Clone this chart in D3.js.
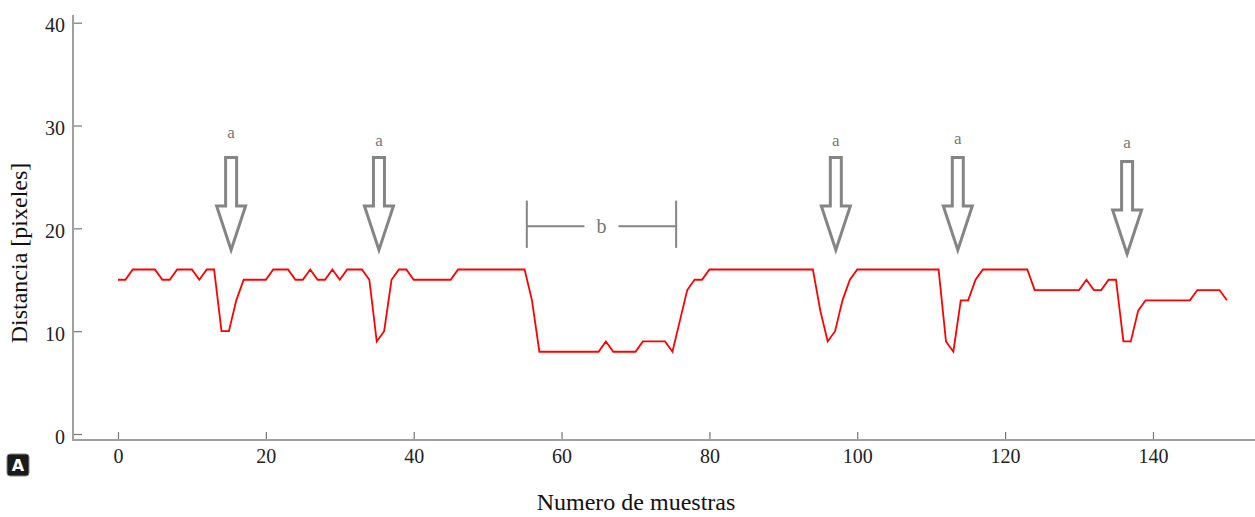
<!DOCTYPE html>
<html>
<head>
<meta charset="utf-8">
<script src="https://cdn.jsdelivr.net/npm/d3@7"></script>
<style>
  body { margin: 0; background: #fff; }
  svg { display: block; font-family: "Liberation Serif", "Times New Roman", serif; }
</style>
</head>
<body>
<div id="chart"></div>
<script>
// distance per sample (pixels)
const distancia = [
  15, 15, 16, 16, 16, 16, 15, 15, 16, 16, 16, 15, 16, 16, 10, 10, 13, 15, 15, 15,
  15, 16, 16, 16, 15, 15, 16, 15, 15, 16, 15, 16, 16, 16, 15, 9, 10, 15, 16, 16,
  15, 15, 15, 15, 15, 15, 16, 16, 16, 16, 16, 16, 16, 16, 16, 16, 13, 8, 8, 8,
  8, 8, 8, 8, 8, 8, 9, 8, 8, 8, 8, 9, 9, 9, 9, 8, 11, 14, 15, 15,
  16, 16, 16, 16, 16, 16, 16, 16, 16, 16, 16, 16, 16, 16, 16, 12, 9, 10, 13, 15,
  16, 16, 16, 16, 16, 16, 16, 16, 16, 16, 16, 16, 9, 8, 13, 13, 15, 16, 16, 16,
  16, 16, 16, 16, 14, 14, 14, 14, 14, 14, 14, 15, 14, 14, 15, 15, 9, 9, 12, 13,
  13, 13, 13, 13, 13, 13, 14, 14, 14, 14, 13
];
const muestras = distancia.map((d, i) => i);

const xTicks = [0, 20, 40, 60, 80, 100, 120, 140];
const yTicks = [0, 10, 20, 30, 40];

// "a" arrows (sample position, shaft top, tip, label height)
const arrowX = [15.3, 35.3, 97.1, 113.6, 136.5];
const arrowTop = [26.9, 26.9, 26.9, 26.9, 26.5];
const arrowTip = [17.9, 17.9, 17.9, 17.9, 17.5];
const arrowLabelY = [29.3, 28.5, 28.5, 28.7, 28.3];

// "b" bracket
const bracketX = [55.3, 75.5];
const bracketY = 20.2;
const bracketSpan = [22.7, 18.1];

const W = 1255, H = 517;

const svg = d3.select("#chart").append("svg")
    .attr("width", W)
    .attr("height", H);

svg.append("rect").attr("width", W).attr("height", H).attr("fill", "#fff");

const x = d3.scaleLinear().domain([0, 149]).range([118, 1219.5]);
const y = d3.scaleLinear().domain([0, 40]).range([434, 22.7]);

const axisColor = "#a0a0a0";
const annColor = "#858585";

// x axis
const gx = svg.append("g")
    .attr("transform", "translate(0,440)")
    .call(d3.axisBottom(x).tickValues(xTicks).tickSizeInner(-8).tickSizeOuter(0).tickPadding(9));
gx.select(".domain").remove();
gx.append("line").attr("x1", 73).attr("x2", W).attr("stroke", axisColor).attr("stroke-width", 2);

// y axis
const gy = svg.append("g")
    .attr("transform", "translate(73,0)")
    .call(d3.axisLeft(y).tickValues(yTicks).tickSizeInner(-9).tickSizeOuter(0).tickPadding(8));
gy.select(".domain").remove();
gy.append("line").attr("y1", 15).attr("y2", 441).attr("stroke", axisColor).attr("stroke-width", 2);

svg.selectAll(".tick line").attr("stroke", "#777").attr("stroke-width", 1.2);
svg.selectAll(".tick text")
    .attr("fill", "#222")
    .style("font-size", "20px")
    .style("font-family", "'Liberation Serif', serif");
gy.selectAll(".tick text").attr("dy", "0.45em");

// axis titles
svg.append("text")
    .attr("x", 636).attr("y", 510)
    .attr("text-anchor", "middle")
    .attr("fill", "#111")
    .style("font-size", "24px")
    .text("Numero de muestras");

svg.append("text")
    .attr("transform", "translate(27,253) rotate(-90)")
    .attr("text-anchor", "middle")
    .attr("fill", "#111")
    .style("font-size", "24px")
    .text("Distancia [pixeles]");

// data line
svg.append("path")
    .datum(muestras)
    .attr("fill", "none")
    .attr("stroke", "#ff0000")
    .attr("stroke-width", 1.8)
    .attr("d", d3.line().x(i => x(i)).y(i => y(distancia[i])));

// arrows
const arrows = svg.selectAll(".arrow")
    .data(arrowX)
    .enter().append("g")
    .attr("class", "arrow");

arrows.append("path")
    .attr("fill", "#fff")
    .attr("stroke", annColor)
    .attr("stroke-width", 3)
    .attr("stroke-linejoin", "miter")
    .attr("d", (d, i) => {
        const cx = x(d), top = y(arrowTop[i]), tip = y(arrowTip[i]);
        const hs = tip - 44;
        return `M${cx - 5.5},${top}H${cx + 5.5}V${hs}H${cx + 14.5}L${cx},${tip}L${cx - 14.5},${hs}H${cx - 5.5}Z`;
    });

arrows.append("text")
    .attr("x", d => x(d))
    .attr("y", (d, i) => y(arrowLabelY[i]) + 5)
    .attr("text-anchor", "middle")
    .attr("fill", "#777")
    .style("font-size", "17px")
    .text("a");

// bracket b
const bx0 = x(bracketX[0]), bx1 = x(bracketX[1]), by = y(bracketY);
const bmid = (bx0 + bx1) / 2;
const bracket = svg.append("g").attr("stroke", annColor).attr("stroke-width", 2);
bracket.append("line").attr("x1", bx0).attr("x2", bx0).attr("y1", y(bracketSpan[0])).attr("y2", y(bracketSpan[1]));
bracket.append("line").attr("x1", bx1).attr("x2", bx1).attr("y1", y(bracketSpan[0])).attr("y2", y(bracketSpan[1]));
bracket.append("line").attr("x1", bx0).attr("x2", bmid - 17).attr("y1", by).attr("y2", by);
bracket.append("line").attr("x1", bmid + 17).attr("x2", bx1).attr("y1", by).attr("y2", by);
svg.append("text")
    .attr("x", bmid).attr("y", by + 7)
    .attr("text-anchor", "middle")
    .attr("fill", "#777")
    .style("font-size", "20px")
    .text("b");

// panel badge
svg.append("rect")
    .attr("x", 7).attr("y", 454).attr("width", 22).attr("height", 22)
    .attr("rx", 3).attr("fill", "#1a1a1a").attr("stroke", "#888").attr("stroke-width", 1);
svg.append("text")
    .attr("x", 18).attr("y", 471)
    .attr("text-anchor", "middle")
    .attr("fill", "#fff")
    .style("font-family", "'DejaVu Sans', sans-serif")
    .style("font-weight", "bold")
    .style("font-size", "16px")
    .text("A");
</script>
</body>
</html>
